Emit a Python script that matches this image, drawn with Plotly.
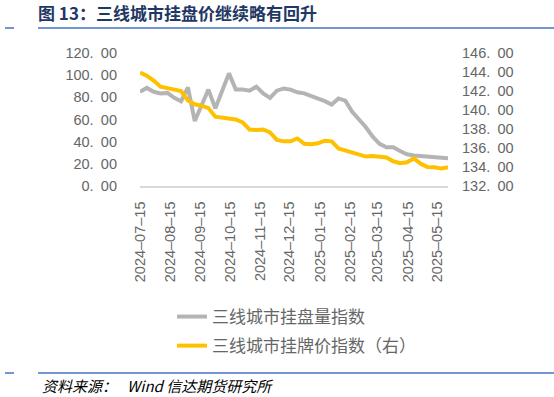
import plotly.graph_objects as go
import pandas as pd

dates = pd.date_range("2024-07-15", periods=46, freq="7D").strftime("%Y-%m-%d").tolist()

listing_volume = [85, 88.5, 85, 83.5, 84, 79.5, 76.5, 89, 58.6, 73,
                  87, 70, 85, 101.6, 87, 87, 86, 89.6, 83.5, 79.5,
                  86, 88, 87, 84.5, 83.6, 81.5, 79.5, 76.5, 73.5, 79,
                  77, 67, 60, 53, 44.5, 38, 35, 35, 31.5, 28.6,
                  27.5, 27, 27, 26.8, 26, 25]

listing_price = [143.93, 143.6, 143.1, 142.45, 142.3, 142.15, 142.0, 141.0, 140.6, 140.45,
                 140.2, 139.3, 139.2, 139.15, 139.0, 138.7, 137.95, 137.9, 137.95, 137.65,
                 136.85, 136.7, 136.7, 137.0, 136.45, 136.4, 136.5, 136.77, 136.7, 135.95,
                 135.75, 135.55, 135.37, 135.1, 135.15, 135.1, 135.0, 134.6, 134.4, 134.5,
                 134.9, 134.35, 134.0, 133.97, 133.85, 133.97]

tick_dates = ["2024-07-15", "2024-08-15", "2024-09-15", "2024-10-15", "2024-11-15",
              "2024-12-15", "2025-01-15", "2025-02-15", "2025-03-15", "2025-04-15",
              "2025-05-15"]
left_ticks = [0, 20, 40, 60, 80, 100, 120]
right_ticks = [132, 134, 136, 138, 140, 142, 144, 146]

name_volume = "三线城市挂盘量指数"
name_price = "三线城市挂牌价指数（右）"
title_text = "<b>图 13：三线城市挂盘价继续略有回升</b>"
source_text = "<i>资料来源：\u00a0\u00a0\u00a0Wind 信达期货研究所</i>"

W, H = 554, 397
L, R, T, B = 140, 448, 53, 186


def px(x):
    return (x - L) / (R - L)


def py(y):
    return (B - y) / (B - T)


def fmt(v):
    return f"{v:.2f}".replace(".", ".\u2002")


CJK = "Noto Sans CJK SC"
NUM = "Liberation Sans, Arial"
GRAY_TXT = "#666666"

fig = go.Figure()
fig.add_trace(go.Scatter(x=dates, y=listing_volume, name=name_volume, mode="lines",
                         line=dict(color="#b4b4b4", width=4), legendgroup="a"))
fig.add_trace(go.Scatter(x=dates, y=listing_price, name=name_price, mode="lines",
                         line=dict(color="#ffc000", width=4), yaxis="y2", legendgroup="b"))

fig.update_layout(
    width=W, height=H,
    margin=dict(l=L, r=W - R, t=T, b=H - B),
    paper_bgcolor="white", plot_bgcolor="white",
    font=dict(family=CJK, color=GRAY_TXT, size=13),
    title=dict(text=title_text, x=38 / W, xanchor="left", xref="container",
               y=1 - 14 / H, yanchor="middle", yref="container",
               font=dict(family=CJK, size=17, color="#1f3864")),
    xaxis=dict(type="date", range=[dates[0], dates[-1]], tickvals=tick_dates,
               tickformat="%Y\u2013%m\u2013%d", tickangle=-90, showgrid=False,
               showline=True, linecolor="#d9d9d9", linewidth=1.5, ticks="",
               ticklabelstandoff=8,
               tickfont=dict(family=NUM, size=14.5, color=GRAY_TXT), zeroline=False),
    yaxis=dict(range=[0, 120], tickvals=left_ticks, ticktext=[fmt(v) for v in left_ticks],
               showgrid=False, zeroline=False,
               showline=False, ticks="", ticklabelstandoff=22,
               tickfont=dict(family=NUM, size=14.5, color=GRAY_TXT)),
    yaxis2=dict(range=[132, 146], tickvals=right_ticks, ticktext=[fmt(v) for v in right_ticks],
                overlaying="y", side="right",
                showgrid=False, zeroline=False, showline=False, ticks="",
                ticklabelstandoff=13,
                tickfont=dict(family=NUM, size=14.5, color=GRAY_TXT)),
    showlegend=True,
    legend=dict(x=px(172), y=py(299), xanchor="left", yanchor="top",
                orientation="v", tracegroupgap=4, itemwidth=30,
                font=dict(family=CJK, size=17, color=GRAY_TXT),
                bgcolor="rgba(0,0,0,0)"),
)

line_color = "#4472c4"
for yy in (28, 373):
    fig.add_shape(type="line", xref="paper", yref="paper",
                  x0=px(38), x1=px(W), y0=py(yy), y1=py(yy),
                  line=dict(color=line_color, width=1.5))
    fig.add_shape(type="line", xref="paper", yref="paper",
                  x0=px(5), x1=px(14), y0=py(yy), y1=py(yy),
                  line=dict(color=line_color, width=1.5))

fig.add_annotation(text=source_text, xref="paper", yref="paper",
                   x=px(40), y=py(385), xanchor="left", yanchor="middle",
                   showarrow=False, font=dict(family=CJK, size=15, color="#000000"))

fig.write_html("out.html", config={"displayModeBar": False},
               post_script="document.body.style.margin='0';")
